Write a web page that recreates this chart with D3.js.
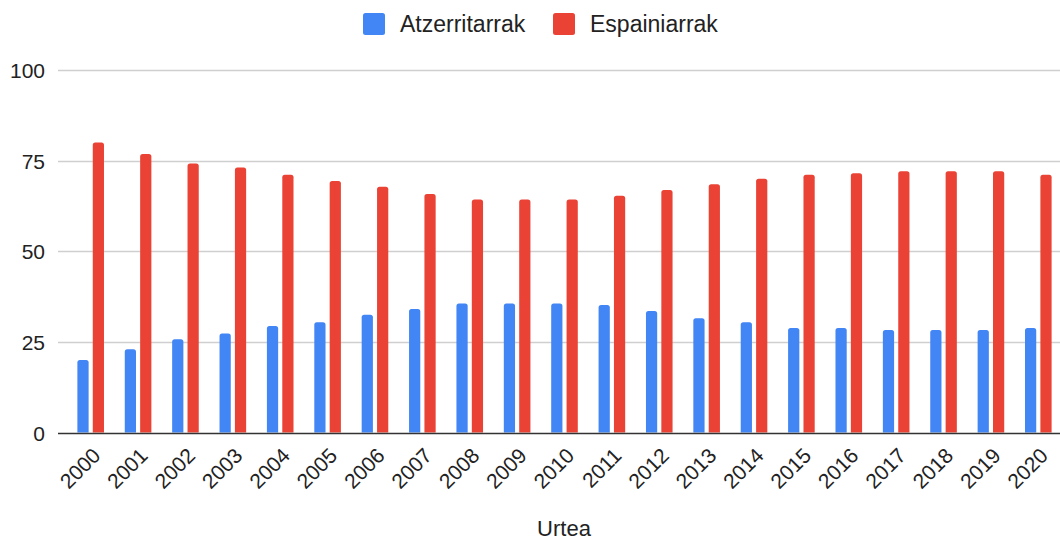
<!DOCTYPE html>
<html>
<head>
<meta charset="utf-8">
<script src="https://cdn.jsdelivr.net/npm/d3@7"></script>
<style>
  body { margin: 0; background: #fff; }
  text { font-family: "Liberation Sans", Arial, sans-serif; fill: #222; }
  .grid line { stroke: #cfcfcf; stroke-width: 1.3; }
</style>
</head>
<body>
<div id="chart"></div>
<script>
var years = ["2000","2001","2002","2003","2004","2005","2006","2007","2008","2009","2010",
             "2011","2012","2013","2014","2015","2016","2017","2018","2019","2020"];
var series = ["Atzerritarrak", "Espainiarrak"];
var colors = ["#4285f4", "#ea4335"];
var atzerritarrak = [20.0, 23.0, 25.7, 27.3, 29.4, 30.4, 32.5, 34.1, 35.6, 35.6, 35.6,
                     35.2, 33.5, 31.5, 30.4, 28.8, 28.8, 28.3, 28.3, 28.3, 28.8];
var espainiarrak = [80.0, 76.8, 74.2, 73.1, 71.1, 69.4, 67.8, 65.8, 64.3, 64.3, 64.3,
                    65.3, 66.9, 68.5, 70.0, 71.1, 71.5, 72.1, 72.1, 72.1, 71.1];
var yTicks = [0, 25, 50, 75, 100];
var xTitle = "Urtea";

var w = 1060, h = 542;
var p = {"top": 70, "bot": 110, "left": 58, "right": 0};

var svg = d3.select("#chart").append("svg")
  .attr("width", w)
  .attr("height", h)

var yScale = d3.scaleLinear()
  .domain([0, 100])
  .range([h - p.bot + 0.5, p.top])

var xScale = d3.scaleBand()
  .domain(years)
  .range([67, 1062])

var x1 = d3.scaleBand()
  .domain(series)
  .range([-13.3, 13.3])
  .paddingInner(0.27)

// gridlines
svg.append("g")
  .attr("class", "grid")
  .selectAll("line")
  .data(yTicks.filter(function(d){ return d > 0 }))
  .enter().append("line")
    .attr("x1", p.left)
    .attr("x2", w)
    .attr("y1", function(d){ return Math.round(yScale(d)) + 0.5 })
    .attr("y2", function(d){ return Math.round(yScale(d)) + 0.5 })

// y labels
var yAxis = d3.axisLeft(yScale).tickValues(yTicks).tickSize(0).tickPadding(13);
var yg = svg.append("g")
  .attr("transform", "translate(" + p.left + ",0)")
  .call(yAxis)
yg.select(".domain").remove();
yg.selectAll("text")
  .style("font-size", "21px")
  .attr("dy", "0.36em")

function topRounded(x, y, bw, bh, r) {
  r = Math.min(r, bh, bw / 2);
  return "M" + x + "," + (y + bh) +
    "V" + (y + r) +
    "Q" + x + "," + y + " " + (x + r) + "," + y +
    "H" + (x + bw - r) +
    "Q" + (x + bw) + "," + y + " " + (x + bw) + "," + (y + r) +
    "V" + (y + bh) + "Z";
}

var rows = years.map(function(y, i){
  return {year: y, values: [atzerritarrak[i], espainiarrak[i]]};
});

var groups = svg.selectAll(".yr")
  .data(rows)
  .enter().append("g")
    .attr("class", "yr")
    .attr("transform", function(d){ return "translate(" + (xScale(d.year) + xScale.bandwidth()/2) + ",0)" })

groups.selectAll("path")
  .data(function(d){ return d.values.map(function(v, k){ return {key: series[k], value: v, k: k} }) })
  .enter().append("path")
    .attr("d", function(d){
      var y0 = yScale(0), y1 = yScale(d.value);
      return topRounded(x1(d.key), y1, x1.bandwidth(), y0 - y1, 2.5);
    })
    .style("fill", function(d){ return colors[d.k] })

// baseline
svg.append("line")
  .attr("x1", p.left)
  .attr("x2", w)
  .attr("y1", Math.round(yScale(0)) + 0.5)
  .attr("y2", Math.round(yScale(0)) + 0.5)
  .style("stroke", "#333")
  .style("stroke-width", 1.5)

// x labels, rotated
svg.append("g")
  .selectAll("text")
  .data(years)
  .enter().append("text")
    .attr("transform", function(d){
      return "translate(" + (xScale(d) + xScale.bandwidth()/2 + 11) + ",457) rotate(-45)"
    })
    .style("text-anchor", "end")
    .style("font-size", "21px")
    .text(function(d){ return d })

// x title
svg.append("text")
  .attr("x", 564)
  .attr("y", 536)
  .style("text-anchor", "middle")
  .style("font-size", "22px")
  .text(xTitle)

// legend
var legendX = [363, 553];
var leg = svg.selectAll(".leg")
  .data(series)
  .enter().append("g")
    .attr("class", "leg")
    .attr("transform", function(d, i){ return "translate(" + legendX[i] + ",0)" })
leg.append("rect")
  .attr("x", 0)
  .attr("y", 13)
  .attr("width", 22)
  .attr("height", 22)
  .attr("rx", 2.5)
  .style("fill", function(d, i){ return colors[i] })
leg.append("text")
  .attr("x", 37)
  .attr("y", 32)
  .style("font-size", "23px")
  .text(function(d){ return d })
</script>
</body>
</html>
